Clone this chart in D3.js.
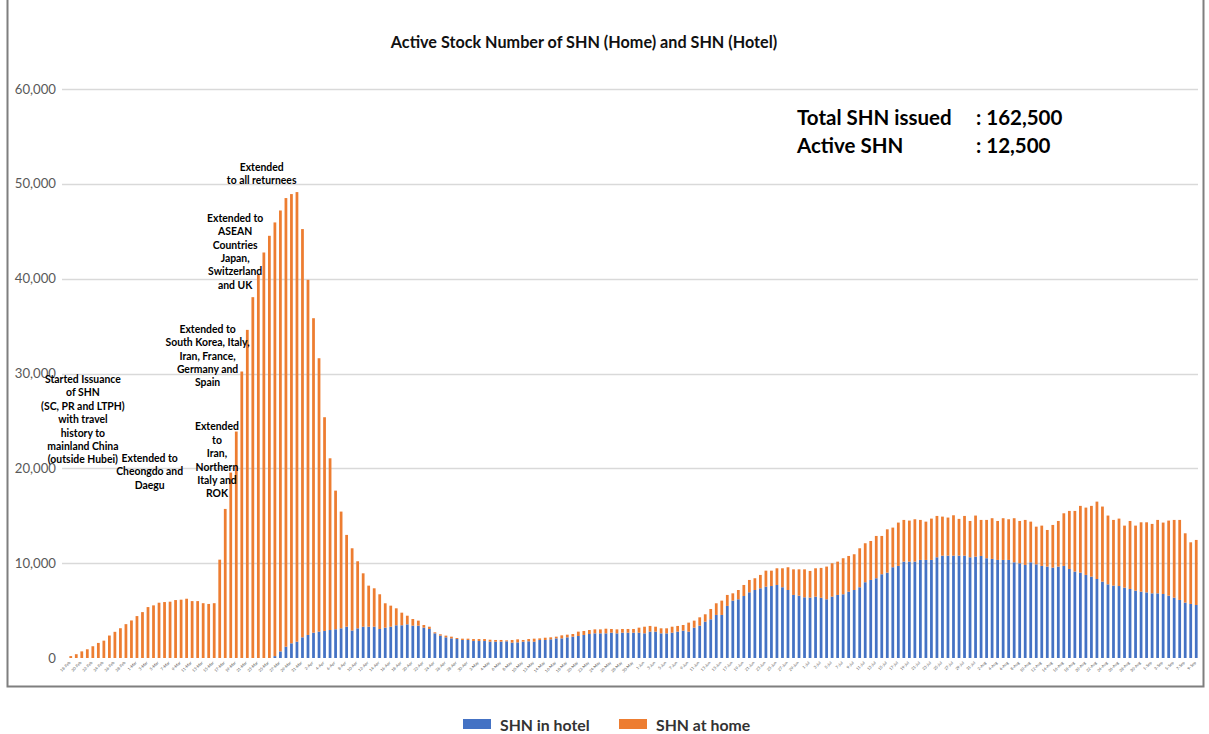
<!DOCTYPE html>
<html>
<head>
<meta charset="utf-8">
<script src="https://cdn.jsdelivr.net/npm/d3@7"></script>
<style>
  body { margin: 0; background: #fff; }
  svg { display: block; font-family: Lato, "Liberation Sans", sans-serif; }
</style>
</head>
<body>
<div class="graphHere"></div>
<script>
// categories: one bar per day, starting 18 Feb 2020
var startDate = new Date(2020, 1, 18);
var dayCount = 205;
var days = d3.timeDay.range(startDate, d3.timeDay.offset(startDate, dayCount));

// SHN in hotel (blue)
var hotel = [
  0,0,0,0,0,0,0,0,0,0,0,0,0,0,0,0,0,0,0,0,
  0,0,0,0,0,0,0,0,0,0,0,0,0,0,0,0,0,200,700,1190,
  1550,1720,2180,2430,2670,2780,2850,2950,3030,3130,3300,2900,3130,3300,3300,3300,3060,3200,3300,3450,
  3450,3550,3410,3410,3200,3060,2600,2360,2180,2070,2000,1900,1900,1790,1790,1790,1720,1720,1720,1760,
  1620,1650,1720,1760,1720,1900,1900,1970,2070,2070,2180,2250,2320,2430,2530,2600,2600,2600,2670,2600,
  2670,2670,2670,2670,2600,2780,2780,2600,2600,2670,2780,2880,2780,3200,3410,3830,4080,4540,4540,5490,
  6050,6190,6540,6930,7170,7350,7520,7590,7700,7460,7170,6650,6570,6400,6370,6470,6350,6190,6470,6650,
  6720,6990,7170,7460,7990,8230,8410,8830,9000,9570,9710,10160,10160,10160,10340,10340,10340,10620,10790,10790,
  10790,10790,10790,10620,10690,10760,10520,10450,10340,10340,10340,10090,9990,9810,10090,9880,9710,9640,9530,9640,
  9710,9390,9110,9000,8760,8580,8330,8050,7770,7630,7590,7420,7280,7100,6990,6920,6820,6820,6750,6570,
  6360,6120,5840,5700,5590
];

// SHN at home (orange)
var home = [
  200,400,700,920,1240,1590,1830,2370,2760,3140,3570,3960,4420,4840,5370,5550,5830,5900,5940,6110,
  6150,6250,6000,6000,5780,5700,5780,10370,15720,19550,23880,30210,34600,38050,40400,42760,44520,45730,46490,47310,
  47370,47410,43050,37450,33160,28830,22540,18110,14620,12310,9680,8670,7070,5630,4330,4050,3660,2570,2220,1790,
  1330,910,700,530,280,240,110,140,180,180,110,140,140,210,210,210,210,180,180,100,
  280,320,180,240,320,170,240,210,180,320,280,280,460,420,420,420,420,490,390,420,
  390,390,390,530,700,600,520,530,530,630,600,600,950,740,880,780,1090,1230,1510,1160,
  770,980,1160,1300,1240,1410,1690,1620,1760,2000,2400,2700,2780,2950,2810,2990,3150,3450,3520,3510,
  3800,3770,3770,4110,4110,4110,4460,4040,4570,4180,4570,4400,4330,4470,4220,4040,4360,4360,4120,4020,
  4260,3880,4190,3830,4330,3800,4040,4290,4110,4400,4290,4650,4460,4750,4290,3970,4250,3860,4500,4810,
  5550,6120,6400,7040,7100,7460,8160,7920,7250,6930,7110,6540,7170,6860,7320,7390,7320,7740,7530,7920,
  8200,8440,7310,6500,6860
];

var seriesNames = ["SHN in hotel", "SHN at home"];
var seriesColors = ["#4472C4", "#ED7D31"];
var yTicks = [0, 10000, 20000, 30000, 40000, 50000, 60000];

var chartTitle = "Active Stock Number of SHN (Home) and SHN (Hotel)";
var summaryRows = [["Total SHN issued", ": 162,500"], ["Active SHN", ": 12,500"]];

// event notes: bar index they sit over, value of the first text line
var notes = [
  { day: 2.2, value: 29400, lines: ["Started Issuance", "of SHN", "(SC, PR and LTPH)", "with travel", "history to", "mainland China", "(outside Hubei)"] },
  { day: 14.3, value: 21100, lines: ["Extended to", "Cheongdo and", "Daegu"] },
  { day: 26.5, value: 24400, lines: ["Extended", "to", "Iran,", "Northern", "Italy and", "ROK"] },
  { day: 24.8, value: 34700, lines: ["Extended to", "South Korea, Italy,", "Iran, France,", "Germany and", "Spain"] },
  { day: 29.8, value: 46400, lines: ["Extended to", "ASEAN", "Countries", "Japan,", "Switzerland", "and UK"] },
  { day: 34.6, value: 51800, lines: ["Extended", "to all returnees"] }
];

var W = 1209, H = 734;
var svg = d3.select(".graphHere").append("svg")
  .attr("width", W)
  .attr("height", H);

// frame round the chart area
svg.append("path")
  .attr("d", "M7.5,0 V686.5 H1203.5 V0")
  .attr("fill", "none")
  .attr("stroke", "#7f7f7f")
  .attr("stroke-width", 2);

var x = d3.scaleBand()
  .domain(d3.range(dayCount))
  .range([68, 1199])
  .padding(0);

var y = d3.scaleLinear()
  .domain([0, 60000])
  .range([658, 89]);

// grid
svg.append("g")
  .selectAll("line")
  .data(yTicks.slice(1))
  .enter().append("line")
    .attr("x1", 62)
    .attr("x2", 1198)
    .attr("y1", function(d){ return Math.round(y(d)) + 0.5; })
    .attr("y2", function(d){ return Math.round(y(d)) + 0.5; })
    .attr("stroke", "#d9d9d9")
    .attr("stroke-width", 1.5);

// y labels
svg.append("g")
  .selectAll("text")
  .data(yTicks)
  .enter().append("text")
    .attr("x", 56)
    .attr("y", function(d){ return y(d) + 4.5; })
    .attr("text-anchor", "end")
    .attr("font-size", 13.2)
    .attr("fill", "#595959")
    .text(function(d){ return d3.format(",")(d); });

// stacked bars
var rows = days.map(function(d, i){
  return { i: i, hotel: hotel[i], home: home[i] };
});
var stacked = d3.stack().keys(["hotel", "home"])(rows);

var barW = x.bandwidth() * 0.5;
svg.append("g")
  .selectAll("g")
  .data(stacked)
  .enter().append("g")
    .attr("fill", function(d, k){ return seriesColors[k]; })
  .selectAll("rect")
  .data(function(d){ return d; })
  .enter().append("rect")
    .attr("x", function(d){ return x(d.data.i) + (x.bandwidth() - barW) / 2; })
    .attr("y", function(d){ return y(d[1]); })
    .attr("width", barW)
    .attr("height", function(d){ return Math.max(0, y(d[0]) - y(d[1])); });

// x labels, every second day
var fmt = d3.timeFormat("%-d-%b");
svg.append("g")
  .selectAll("text")
  .data(days.filter(function(d, i){ return i % 2 === 0; }))
  .enter().append("text")
    .attr("transform", function(d){
      var i = d3.timeDay.count(startDate, d);
      return "translate(" + (x(i) + x.bandwidth() / 2) + ",663) rotate(-45)";
    })
    .attr("text-anchor", "end")
    .attr("font-size", 4)
    .attr("fill", "#595959")
    .text(function(d){ return fmt(d); });

// title
svg.append("text")
  .attr("x", 584)
  .attr("y", 48)
  .attr("text-anchor", "middle")
  .attr("font-size", 16.2)
  .attr("font-weight", "bold")
  .attr("fill", "#111")
  .text(chartTitle);

// summary box
summaryRows.forEach(function(r, k){
  var g = svg.append("g").attr("font-size", 20.5).attr("font-weight", "bold").attr("fill", "#000");
  g.append("text").attr("x", 797).attr("y", 125 + k * 28).text(r[0]);
  g.append("text").attr("x", 976).attr("y", 125 + k * 28).text(r[1]);
});

// event notes
var xi = d3.scaleLinear()
  .domain([0, dayCount - 1])
  .range([x(0) + x.bandwidth() / 2, x(dayCount - 1) + x.bandwidth() / 2]);

notes.forEach(function(n){
  var t = svg.append("text")
    .attr("text-anchor", "middle")
    .attr("font-size", 10.4)
    .attr("font-weight", "bold")
    .attr("fill", "#000");
  n.lines.forEach(function(line, k){
    t.append("tspan")
      .attr("x", xi(n.day))
      .attr("y", y(n.value) + 3.8 + k * 13.4)
      .text(line);
  });
});

// legend
var legend = svg.append("g");
seriesNames.forEach(function(name, k){
  var lx = 463 + k * 156;
  legend.append("rect")
    .attr("x", lx)
    .attr("y", 719)
    .attr("width", 28)
    .attr("height", 10)
    .attr("fill", seriesColors[k]);
  legend.append("text")
    .attr("x", lx + 37)
    .attr("y", 730.5)
    .attr("font-size", 15.8)
    .attr("font-weight", "bold")
    .attr("fill", "#333")
    .text(name);
});
</script>
</body>
</html>
